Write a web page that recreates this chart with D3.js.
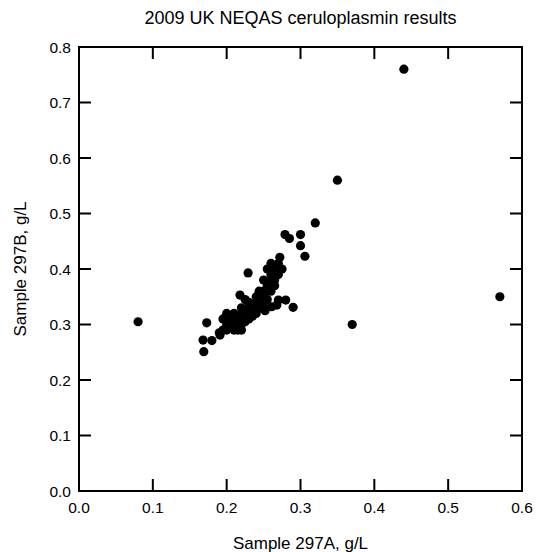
<!DOCTYPE html>
<html>
<head>
<meta charset="utf-8">
<script src="https://cdn.jsdelivr.net/npm/d3@7"></script>
</head>
<body style="margin:0">
<svg id="chart" width="538" height="552"></svg>
<script>
// data: sample 297A (x) vs sample 297B (y), g/L
const sampleA = [
  0.08, 0.44, 0.35, 0.57, 0.37, 0.32, 0.279, 0.285, 0.30, 0.30, 0.306, 0.229,
  0.272, 0.25, 0.261, 0.27, 0.28, 0.29, 0.24, 0.227, 0.173, 0.168, 0.18, 0.169,
  0.19, 0.195, 0.20, 0.20, 0.205, 0.205, 0.21, 0.21, 0.21, 0.215, 0.215, 0.215,
  0.22, 0.22, 0.22, 0.22, 0.225, 0.225, 0.225, 0.23, 0.23, 0.23, 0.23, 0.235,
  0.235, 0.235, 0.24, 0.24, 0.24, 0.245, 0.245, 0.245, 0.25, 0.25, 0.25, 0.25,
  0.255, 0.255, 0.255, 0.26, 0.26, 0.26, 0.26, 0.265, 0.265, 0.265, 0.265, 0.27,
  0.27, 0.27, 0.275, 0.26, 0.255, 0.25, 0.218, 0.225, 0.21, 0.20, 0.195, 0.211,
  0.191, 0.22, 0.268, 0.252, 0.244
];
const sampleB = [
  0.305, 0.76, 0.56, 0.35, 0.30, 0.483, 0.462, 0.455, 0.462, 0.442, 0.423, 0.393,
  0.421, 0.332, 0.332, 0.344, 0.344, 0.331, 0.32, 0.311, 0.303, 0.272, 0.271, 0.251,
  0.285, 0.29, 0.29, 0.30, 0.295, 0.31, 0.30, 0.31, 0.29, 0.305, 0.315, 0.29,
  0.31, 0.32, 0.30, 0.33, 0.315, 0.325, 0.305, 0.32, 0.33, 0.31, 0.34, 0.325,
  0.335, 0.315, 0.33, 0.34, 0.35, 0.34, 0.35, 0.33, 0.34, 0.355, 0.36, 0.35,
  0.36, 0.37, 0.345, 0.37, 0.38, 0.39, 0.36, 0.38, 0.39, 0.40, 0.37, 0.39,
  0.40, 0.41, 0.40, 0.41, 0.40, 0.38, 0.353, 0.345, 0.32, 0.32, 0.31, 0.293,
  0.281, 0.29, 0.335, 0.325, 0.36
];
const xTicks = [0, 0.1, 0.2, 0.3, 0.4, 0.5, 0.6];
const yTicks = [0, 0.1, 0.2, 0.3, 0.4, 0.5, 0.6, 0.7, 0.8];

const width = 538, height = 552;
const margin = {top: 47, right: 16, bottom: 61, left: 79};
const plotW = width - margin.left - margin.right;
const plotH = height - margin.top - margin.bottom;
const font = "'Liberation Sans', Arial, sans-serif";
const ink = "#000";
const lw = 2;

const points = sampleA.map((a, i) => ({a: a, b: sampleB[i]}));

const svg = d3.select("#chart");

// scales in page coordinates
const xScale = d3.scaleLinear().domain([0, 0.6]).range([margin.left, margin.left + plotW]);
const yScale = d3.scaleLinear().domain([0, 0.8]).range([margin.top + plotH, margin.top]);

const tickLen = 12;
const fmt = d3.format(".1f");
const x0 = margin.left, x1 = margin.left + plotW;
const y0 = margin.top + plotH, y1 = margin.top;

// frame: black box with a white box inside
svg.append("rect")
    .attr("x", x0 - lw / 2).attr("y", y1 - lw / 2)
    .attr("width", plotW + lw).attr("height", plotH + lw)
    .style("fill", ink);
svg.append("rect")
    .attr("x", x0 + lw / 2).attr("y", y1 + lw / 2)
    .attr("width", plotW - lw).attr("height", plotH - lw)
    .style("fill", "#fff");

// inward ticks on all four sides, plus labels
const ticks = svg.append("g").style("fill", ink);
xTicks.forEach(function(t) {
  ticks.append("rect").attr("x", xScale(t) - lw / 2).attr("y", y0 - tickLen)
      .attr("width", lw).attr("height", tickLen);
  ticks.append("rect").attr("x", xScale(t) - lw / 2).attr("y", y1)
      .attr("width", lw).attr("height", tickLen);
  svg.append("text").attr("x", xScale(t)).attr("y", y0 + 22)
      .attr("text-anchor", "middle")
      .attr("font-family", font).attr("font-size", 15.5)
      .text(fmt(t));
});
yTicks.forEach(function(t) {
  ticks.append("rect").attr("x", x0).attr("y", yScale(t) - lw / 2)
      .attr("width", tickLen).attr("height", lw);
  ticks.append("rect").attr("x", x1 - tickLen).attr("y", yScale(t) - lw / 2)
      .attr("width", tickLen).attr("height", lw);
  svg.append("text").attr("x", x0 - 8).attr("y", yScale(t) + 5.5)
      .attr("text-anchor", "end")
      .attr("font-family", font).attr("font-size", 15.5)
      .text(fmt(t));
});

// points
svg.selectAll("circle.pt")
    .data(points)
    .enter()
    .append("circle")
    .attr("class", "pt")
    .attr("cx", d => xScale(d.a))
    .attr("cy", d => yScale(d.b))
    .attr("r", 4.6)
    .attr("fill", ink);

// titles
svg.append("text")
    .attr("x", margin.left + plotW / 2)
    .attr("y", 24)
    .attr("text-anchor", "middle")
    .attr("font-family", font).attr("font-size", 18)
    .text("2009 UK NEQAS ceruloplasmin results");

svg.append("text")
    .attr("x", margin.left + plotW / 2)
    .attr("y", 549)
    .attr("text-anchor", "middle")
    .attr("font-family", font).attr("font-size", 17)
    .text("Sample 297A, g/L");

svg.append("text")
    .attr("transform", "translate(26," + (margin.top + plotH / 2) + ") rotate(-90)")
    .attr("text-anchor", "middle")
    .attr("font-family", font).attr("font-size", 17)
    .text("Sample 297B, g/L");
</script>
</body>
</html>
